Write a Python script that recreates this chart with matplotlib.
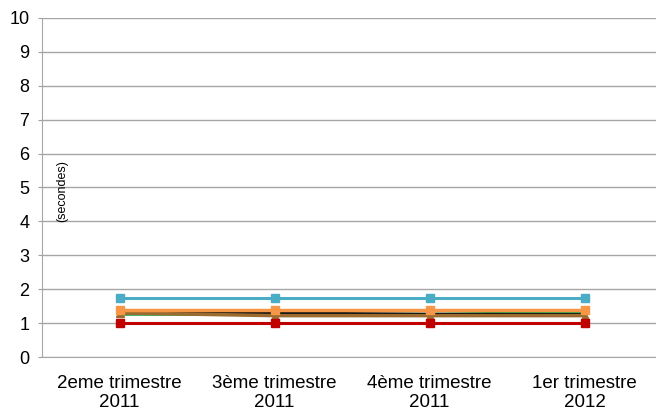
import matplotlib
matplotlib.use("Agg")
import matplotlib.pyplot as plt

# ---------------------------- DATA ---------------------------- #
categories = ["2eme trimestre\n2011", "3ème trimestre\n2011",
              "4ème trimestre\n2011", "1er trimestre\n2012"]
serie_bleue = [1.75, 1.75, 1.75, 1.75]
serie_orange = [1.38, 1.38, 1.38, 1.38]
serie_marron = [1.30, 1.22, 1.22, 1.22]
serie_noire = [1.33, 1.30, 1.26, 1.25]
serie_verte = [1.26, 1.26, 1.26, 1.32]
serie_rouge = [1.0, 1.0, 1.0, 1.0]
y_ticks = list(range(0, 11))

# ---------------------------- PLOT ---------------------------- #
plt.rcParams["font.family"] = ["Liberation Sans", "DejaVu Sans"]
fig = plt.figure(figsize=(6.56, 4.11), dpi=100)
ax = fig.add_axes([42 / 656, (411 - 357) / 411, (656 - 42) / 656, (357 - 18) / 411])

x = list(range(len(categories)))
ax.plot(x, serie_verte, color="#1FA64A", lw=2.2, zorder=3)
ax.plot(x, serie_noire, color="#111111", lw=2.2, zorder=3)
ax.plot(x, serie_marron, color="#9C6B30", lw=2.5, marker="^", ms=6, zorder=4)
ax.plot(x, serie_orange, color="#F79646", lw=2.5, marker="s", ms=6, zorder=5)
ax.plot(x, serie_bleue, color="#4BACC6", lw=2.2, marker="s", ms=6, zorder=5)
ax.plot(x, serie_rouge, color="#C00000", lw=2.2, marker="s", ms=6, zorder=5)

ax.set_xlim(-0.5, 3.46)
ax.set_ylim(0, 10)
ax.set_yticks(y_ticks)
ax.set_xticks(x)
ax.set_xticklabels(categories, fontsize=13.5, linespacing=1.15)
ax.tick_params(axis="y", labelsize=13, length=3, color="#A0A0A0", pad=6)
ax.tick_params(axis="x", length=0, pad=13)
ax.grid(axis="y", color="#A6A6A6", lw=1)
ax.set_axisbelow(True)
for side in ("top", "right"):
    ax.spines[side].set_visible(False)
for side in ("left", "bottom"):
    ax.spines[side].set_color("#A6A6A6")

ax.text(-0.37, 4.9, "(secondes)", rotation=90, ha="center", va="center", fontsize=9)

fig.savefig("out.png", dpi=100)
